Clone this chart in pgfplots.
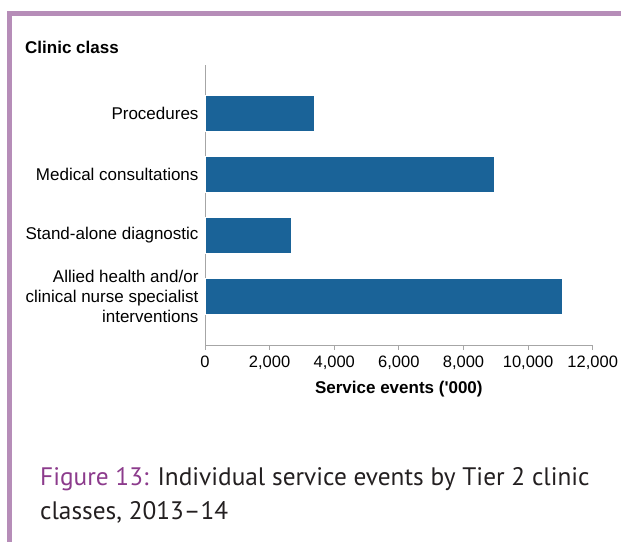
\documentclass[border=0pt]{standalone}
\usepackage{pgfplots}
\pgfplotsset{compat=1.18}
\usepackage{fontspec}
\setmainfont{Liberation Sans}[Ligatures=TeXOff]
\newfontfamily\capfont{PT Sans}
\definecolor{barblue}{HTML}{1A6398}
\definecolor{framepurple}{HTML}{B68DB8}
\definecolor{figpurple}{HTML}{8C3B8C}
\definecolor{captext}{HTML}{231F20}
\definecolor{axgray}{HTML}{A6A6A6}
\begin{document}
\begin{tikzpicture}[x=1bp,y=1bp]
\path[use as bounding box] (0,0) rectangle (621,542);
\draw[framepurple, line width=4.5bp] (9.5,528.5) -- (621,528.5);
\draw[framepurple, line width=4.5bp] (9.5,530.75) -- (9.5,0);
\begin{axis}[
  at={(205bp,197bp)}, anchor=south west,
  scale only axis, width=387.7bp, height=280bp,
  xbar, bar width=36bp,
  xmin=0, xmax=12000,
  ymin=-0.8, ymax=3.8,
  axis x line*=bottom, axis y line*=left,
  axis line style={axgray, line width=0.8bp},
  xtick={0,2000,4000,6000,8000,10000,12000},
  xtick style={axgray, line width=0.8bp},
  major tick length=5bp,
  tick align=outside,
  ytick={0,1,2,3},
  yticklabels={{Allied health and/or\\clinical nurse specialist\\interventions},{Stand-alone diagnostic},{Medical consultations},{Procedures}},
  yticklabel style={align=right, font=\fontsize{17bp}{20bp}\selectfont, text=black, xshift=2bp},
  ytick style={draw=none},
  xticklabel style={font=\fontsize{16.5bp}{19bp}\selectfont, yshift=-2.5bp},
  scaled x ticks=false,
  /pgf/number format/.cd, 1000 sep={,}, assume math mode=true,
  /pgfplots/.cd,
  xlabel={\textbf{Service events ('000)}},
  xlabel style={font=\fontsize{17bp}{20bp}\selectfont, yshift=-5bp},
  clip=false,
]
\addplot[fill=barblue, draw=white, line width=0.4bp] coordinates {
  (11070,0) (2660,1) (8950,2) (3390,3)
};
\end{axis}
\node[anchor=base west, inner sep=0, font=\fontsize{17bp}{20bp}\selectfont\bfseries] at (25,488) {Clinic class};
\node[anchor=base west, inner sep=0, align=left, font=\capfont\fontsize{25.3bp}{34bp}\selectfont, text=captext] at (40,22) {\textcolor{figpurple}{Figure 13:} Individual service events by Tier 2 clinic\\classes, 2013–14};
\end{tikzpicture}
\end{document}
